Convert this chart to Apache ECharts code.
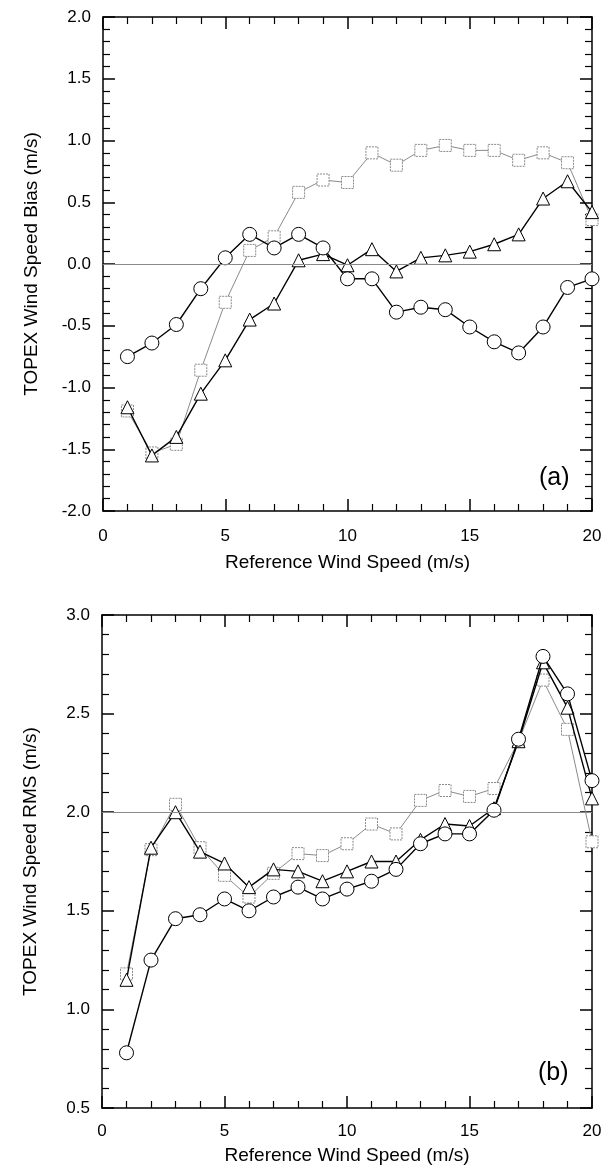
<!DOCTYPE html>
<html>
<head>
<meta charset="utf-8">
<script src="https://cdn.jsdelivr.net/npm/echarts@6/dist/echarts.min.js"></script>
<style>
html,body{margin:0;padding:0;background:#fff;}
#chart{width:611px;height:1170px;}
</style>
</head>
<body>
<div id="chart"></div>
<script>
// Reference wind speed (m/s)
const windSpeed = [1,2,3,4,5,6,7,8,9,10,11,12,13,14,15,16,17,18,19,20];

// Panel (a): TOPEX wind speed bias (m/s)
const biasCircle   = [-0.75,-0.64,-0.49,-0.20,0.05,0.24,0.13,0.24,0.13,-0.12,-0.12,-0.39,-0.35,-0.37,-0.51,-0.63,-0.72,-0.51,-0.19,-0.12];
const biasTriangle = [-1.16,-1.55,-1.40,-1.05,-0.78,-0.45,-0.32,0.03,0.08,-0.01,0.12,-0.06,0.05,0.07,0.10,0.16,0.24,0.53,0.67,0.42];
const biasSquare   = [-1.19,-1.53,-1.46,-0.86,-0.31,0.11,0.22,0.58,0.68,0.66,0.90,0.80,0.92,0.96,0.92,0.92,0.84,0.90,0.82,0.36];

// Panel (b): TOPEX wind speed RMS (m/s)
const rmsCircle   = [0.78,1.25,1.46,1.48,1.56,1.50,1.57,1.62,1.56,1.61,1.65,1.71,1.84,1.89,1.89,2.01,2.37,2.79,2.60,2.16];
const rmsTriangle = [1.15,1.82,2.00,1.80,1.74,1.62,1.71,1.70,1.65,1.70,1.75,1.75,1.86,1.94,1.93,2.02,2.36,2.76,2.53,2.07];
const rmsSquare   = [1.18,1.81,2.04,1.82,1.68,1.57,1.69,1.79,1.78,1.84,1.94,1.89,2.06,2.11,2.08,2.12,2.36,2.67,2.42,1.85];

const xTicks = [0, 20, 5];          // min, max, interval
const biasTicks = [-2.0, 2.0, 0.5];
const rmsTicks = [0.5, 3.0, 0.5];
const biasRef = 0.0;
const rmsRef = 2.0;

const FONT = 'Liberation Sans, Arial, sans-serif';
const pairs = (ys) => windSpeed.map((x, i) => [x, ys[i]]);

function xAx(grid, pos, showLabel, margin, nameGap) {
  return {
    type: 'value', gridIndex: grid, position: pos,
    min: xTicks[0], max: xTicks[1], interval: xTicks[2],
    name: showLabel ? 'Reference Wind Speed (m/s)' : '',
    nameLocation: 'middle', nameGap: nameGap,
    nameTextStyle: {fontFamily: FONT, fontSize: 19, color: '#000'},
    axisLine: {show: true, onZero: false, lineStyle: {color: '#000', width: 1.5}},
    axisTick: {show: true, inside: true, length: 12, lineStyle: {color: '#000', width: 1.5}},
    minorTick: {show: true, splitNumber: 5, length: 7, lineStyle: {color: '#000', width: 1.2}},
    axisLabel: {show: showLabel, margin: margin, fontFamily: FONT, fontSize: 17, color: '#000'},
    splitLine: {show: false}, minorSplitLine: {show: false}
  };
}
function yAx(grid, pos, ticks, showLabel, title) {
  return {
    type: 'value', gridIndex: grid, position: pos,
    min: ticks[0], max: ticks[1], interval: ticks[2],
    name: showLabel ? title : '',
    nameLocation: 'middle', nameGap: 62,
    nameTextStyle: {fontFamily: FONT, fontSize: 19, color: '#000'},
    axisLine: {show: true, onZero: false, lineStyle: {color: '#000', width: 1.5}},
    axisTick: {show: true, inside: true, length: 12, lineStyle: {color: '#000', width: 1.5}},
    minorTick: {show: true, splitNumber: 5, length: 7, lineStyle: {color: '#000', width: 1.2}},
    axisLabel: {show: showLabel, margin: 12, fontFamily: FONT, fontSize: 17, color: '#000',
      formatter: (v) => v.toFixed(1)},
    splitLine: {show: false}, minorSplitLine: {show: false}
  };
}

function seriesSet(grid, sq, tri, cir, ref) {
  const xi = grid * 2, yi = grid * 2;
  return [
    {
      type: 'line', xAxisIndex: xi, yAxisIndex: yi, data: pairs(sq),
      symbol: 'rect', symbolSize: 12, z: 2,
      lineStyle: {color: '#8a8a8a', width: 1},
      itemStyle: {color: '#fff', borderColor: '#8a8a8a', borderWidth: 1, borderType: [2, 1]},
      markLine: {
        silent: true, symbol: 'none', label: {show: false},
        lineStyle: {color: '#8a8a8a', width: 1, type: 'solid'},
        data: [{yAxis: ref}]
      }
    },
    {
      type: 'line', xAxisIndex: xi, yAxisIndex: yi, data: pairs(tri),
      symbol: 'triangle', symbolSize: 13, z: 3,
      lineStyle: {color: '#000', width: 1.4},
      itemStyle: {color: '#fff', borderColor: '#000', borderWidth: 1}
    },
    {
      type: 'line', xAxisIndex: xi, yAxisIndex: yi, data: pairs(cir),
      symbol: 'circle', symbolSize: 14, z: 4,
      lineStyle: {color: '#000', width: 1.4},
      itemStyle: {color: '#fff', borderColor: '#000', borderWidth: 1}
    }
  ];
}

const chart = echarts.init(document.getElementById('chart'), null, {renderer: 'canvas'});
chart.setOption({
  animation: false,
  backgroundColor: '#fff',
  grid: [
    {left: 103, top: 17, width: 489, height: 494},
    {left: 102, top: 615, width: 490, height: 493}
  ],
  xAxis: [
    xAx(0, 'bottom', true, 17, 42), xAx(0, 'top', false, 8, 0),
    xAx(1, 'bottom', true, 15, 38), xAx(1, 'top', false, 8, 0)
  ],
  yAxis: [
    yAx(0, 'left', biasTicks, true, 'TOPEX Wind Speed Bias (m/s)'), yAx(0, 'right', biasTicks, false, ''),
    yAx(1, 'left', rmsTicks, true, 'TOPEX Wind Speed RMS (m/s)'), yAx(1, 'right', rmsTicks, false, '')
  ],
  graphic: [
    {type: 'text', left: 539, top: 466, style: {text: '(a)', font: '25px ' + FONT, fill: '#000'}},
    {type: 'text', left: 538, top: 1061, style: {text: '(b)', font: '25px ' + FONT, fill: '#000'}}
  ],
  series: [
    ...seriesSet(0, biasSquare, biasTriangle, biasCircle, biasRef),
    ...seriesSet(1, rmsSquare, rmsTriangle, rmsCircle, rmsRef)
  ]
});
</script>
</body>
</html>
